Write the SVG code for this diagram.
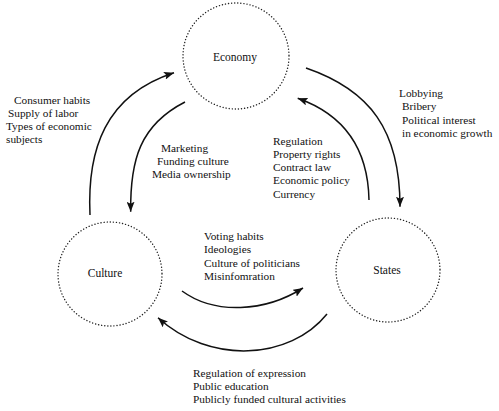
<svg xmlns="http://www.w3.org/2000/svg" width="499" height="411" viewBox="0 0 499 411">
<style>
  .node { fill: none; stroke: #222; stroke-width: 1.4; stroke-dasharray: 0.1 3; stroke-linecap: round; }
  .lbl { font-family: "Liberation Serif", "Times New Roman", serif; font-size: 11.3px; fill: #111; }
  .nlbl { font-family: "Liberation Serif", "Times New Roman", serif; font-size: 11.5px; fill: #111; text-anchor: middle; }
  .conn { fill: none; stroke: #111; stroke-width: 1.5; marker-end: url(#ah); }
</style>
<defs>
  <marker id="ah" viewBox="0 0 10 8" refX="10" refY="4" markerWidth="10" markerHeight="8" markerUnits="userSpaceOnUse" orient="auto">
    <path d="M0,0 L10,4 L0,8 L2,4 Z" fill="#111"/>
  </marker>
</defs>
<rect width="499" height="411" fill="#fff"/>
<g id="economy">
  <circle class="node" cx="236" cy="56" r="53"/>
  <text class="nlbl" x="235" y="61">Economy</text>
</g>
<g id="culture">
  <circle class="node" cx="110" cy="274" r="52"/>
  <text class="nlbl" x="105" y="277">Culture</text>
</g>
<g id="states">
  <circle class="node" cx="388" cy="270" r="52"/>
  <text class="nlbl" x="387" y="274">States</text>
</g>
<g id="connectors">
  <path class="conn" d="M 90 215 C 87 150, 105 95, 174 72.7"/>
  <path class="conn" d="M 185 102 C 140 125, 130 160, 130.7 211.7"/>
  <path class="conn" d="M 306 68 C 370 90, 400 130, 400 206.7"/>
  <path class="conn" d="M 369 200 C 368 150, 345 115, 297.7 98.3"/>
  <path class="conn" d="M 182 291 C 215 315, 265 312, 303 288"/>
  <path class="conn" d="M 327 314 C 290 360, 210 365, 158 317.7"/>
</g>
<g id="labels">
  <text class="lbl" x="14" y="104">Consumer habits</text>
  <text class="lbl" x="8" y="117">Supply of labor</text>
  <text class="lbl" x="6" y="130">Types of economic</text>
  <text class="lbl" x="6" y="143">subjects</text>

  <text class="lbl" x="161" y="152">Marketing</text>
  <text class="lbl" x="157" y="165">Funding culture</text>
  <text class="lbl" x="152" y="178">Media ownership</text>

  <text class="lbl" x="399" y="97">Lobbying</text>
  <text class="lbl" x="402" y="110">Bribery</text>
  <text class="lbl" x="402" y="124">Political interest</text>
  <text class="lbl" x="402" y="137">in economic growth</text>

  <text class="lbl" x="273" y="145">Regulation</text>
  <text class="lbl" x="273" y="158">Property rights</text>
  <text class="lbl" x="273" y="171">Contract law</text>
  <text class="lbl" x="273" y="184">Economic policy</text>
  <text class="lbl" x="273" y="198">Currency</text>

  <text class="lbl" x="204" y="240">Voting habits</text>
  <text class="lbl" x="204" y="253">Ideologies</text>
  <text class="lbl" x="204" y="267">Culture of politicians</text>
  <text class="lbl" x="204" y="280">Misinfomration</text>

  <text class="lbl" x="193" y="377">Regulation of expression</text>
  <text class="lbl" x="193" y="390">Public education</text>
  <text class="lbl" x="193" y="403">Publicly funded cultural activities</text>
</g>
</svg>
